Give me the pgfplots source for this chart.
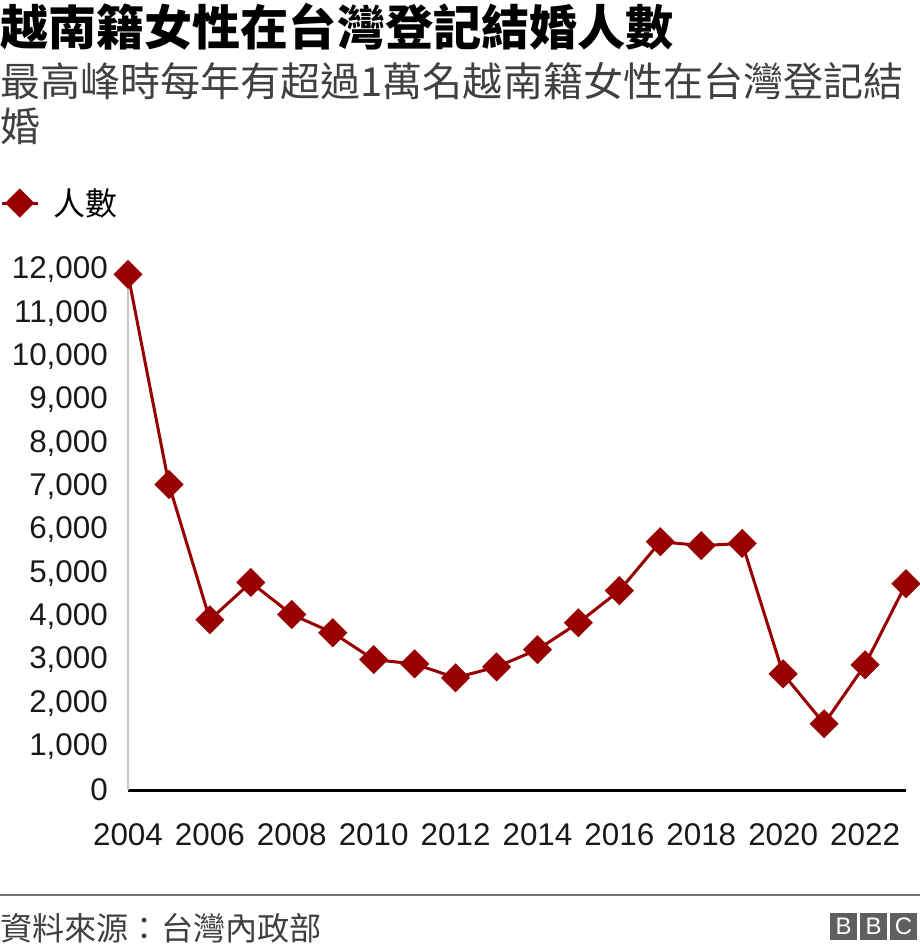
\documentclass[border=0pt]{standalone}
\usepackage{pgfplots}
\pgfplotsset{compat=1.18}
\usepackage{fontspec}
\setmainfont{Liberation Sans}
\newfontfamily\cjk{Noto Sans CJK TC}
\definecolor{bbcred}{HTML}{990000}
\definecolor{subgrey}{HTML}{404040}
\definecolor{bbcgrey}{HTML}{5F5F5F}

\begin{document}
\begin{tikzpicture}[x=1bp,y=1bp]
\useasboundingbox (0,0) rectangle (920,-952);

% titles
\node[anchor=base west, inner sep=0pt, font=\cjk\bfseries\fontsize{48.3}{58}\selectfont] at (0,-45) {越南籍女性在台灣登記結婚人數};
\node[anchor=base west, inner sep=0pt, text=subgrey, font=\cjk\fontsize{40.2}{46}\selectfont] at (0,-96) {最高峰時每年有超過1萬名越南籍女性在台灣登記結};
\node[anchor=base west, inner sep=0pt, text=subgrey, font=\cjk\fontsize{40.2}{46}\selectfont] at (0,-141) {婚};

\begin{axis}[
    at={(128bp,-790bp)}, anchor=south west,
    scale only axis,
    width=778bp, height=520bp,
    xmin=2004, xmax=2023,
    ymin=0, ymax=12000,
    axis lines=left,
    x axis line style={black, line width=3bp, -},
    y axis line style={black!22, line width=1.5bp, -},
    major tick length=0pt,
    xtick={2004,2006,...,2022},
    ytick={0,1000,...,12000},
    scaled y ticks=false,
    tick label style={inner sep=0pt, text=black!90, font=\fontsize{31.5}{36}\selectfont},
    /pgf/number format/assume math mode=true,
    yticklabel style={/pgf/number format/.cd, fixed, 1000 sep={,}, /tikz/.cd, xshift=-20bp},
    xticklabel style={/pgf/number format/.cd, 1000 sep={}, /tikz/.cd, yshift=-33bp},
    clip=false,
    legend style={at={(-128bp,587bp)}, anchor=west, draw=none, fill=none,
        inner sep=0pt, font=\cjk\fontsize{32}{38}\selectfont,
        nodes={inner sep=0pt},
        /tikz/every odd column/.append style={column sep=14bp}},
    legend image code/.code={%
        \draw[mark repeat=2, mark phase=2, #1]
            plot coordinates {(0bp,0bp) (18bp,0bp) (36bp,0bp)};},
]
\addplot[color=bbcred, line width=3bp, mark=square*,
    mark options={rotate=45, solid, mark size=8.8bp}] coordinates {
    (2004,11900) (2005,7050) (2006,3930) (2007,4790) (2008,4050)
    (2009,3630) (2010,3010) (2011,2910) (2012,2590) (2013,2840)
    (2014,3240) (2015,3860) (2016,4600) (2017,5730) (2018,5640)
    (2019,5690) (2020,2680) (2021,1530) (2022,2890) (2023,4760)
};
\addlegendentry{人數}
\end{axis}

% footer
\draw[black!55, line width=2bp] (0,-895) -- (920,-895);
\node[anchor=base west, inner sep=0pt, text=subgrey, font=\cjk\fontsize{32.3}{36}\selectfont] at (0,-940) {資料來源：台灣內政部};
\foreach \i/\l in {0/B,1/B,2/C} {
  \fill[bbcgrey] (830+\i*30,-913) rectangle ++(27,-27);
  \node[text=white, inner sep=0pt, font=\fontsize{24}{28}\selectfont] at (843.5+\i*30,-926.5) {\l};
}
\end{tikzpicture}
\end{document}
